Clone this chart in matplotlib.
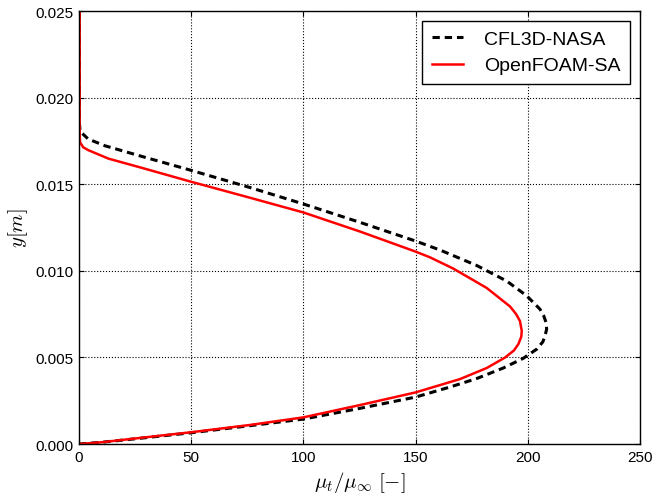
import matplotlib
matplotlib.use("Agg")
import matplotlib.pyplot as plt
import numpy as np

plt.rcParams['font.family'] = ['Liberation Sans', 'DejaVu Sans']
plt.rcParams['mathtext.fontset'] = 'cm'

# CFL3D-NASA (x = mu_t/mu_inf, y = y[m])
cfl_x = [0.0, 10, 25, 50, 76.2, 100, 125.2, 150, 165.3, 177.2, 189.1, 198.0, 204.0,
         206.7, 207.7, 208.4, 208.1, 207.1, 205.4, 199.5, 190.6, 177.2, 160.9, 150,
         125.2, 100.0, 76.2, 49.5, 27.9, 11.6, 4.1, 0.5, 0.2, 0.2]
cfl_y = [0.0, 0.0001, 0.0003, 0.00065, 0.00106, 0.00144, 0.00206, 0.00271, 0.00329,
         0.00378, 0.00439, 0.00495, 0.00548, 0.0059, 0.00625, 0.00664, 0.00703,
         0.0074, 0.00779, 0.00856, 0.00941, 0.01031, 0.0112, 0.01172, 0.0128,
         0.01386, 0.01481, 0.01582, 0.01661, 0.01722, 0.01761, 0.01805, 0.0185, 0.025]

# OpenFOAM-SA
of_x = [0.0, 10, 25, 50, 76.2, 100, 125.2, 150, 156.4, 169.8, 181.7, 189.8, 193.8,
        195.8, 197.1, 197.3, 196.5, 194.8, 192.1, 181.7, 166.8, 156.4, 150, 125.2,
        100, 76.2, 49.5, 27.9, 13.1, 4.1, 1.9, 0.45, 0.3, 0.3]
of_y = [0.0, 0.0001, 0.00032, 0.00068, 0.0011, 0.00154, 0.00225, 0.00298, 0.00323,
        0.00375, 0.00439, 0.00499, 0.0054, 0.00577, 0.0062, 0.00654, 0.0071, 0.0075,
        0.00794, 0.00901, 0.01013, 0.01078, 0.01111, 0.01227, 0.01337, 0.01422,
        0.01516, 0.01595, 0.01648, 0.01697, 0.01713, 0.01742, 0.0180, 0.025]

xticks = [0, 50, 100, 150, 200, 250]
yticks = [0.000, 0.005, 0.010, 0.015, 0.020, 0.025]

fig = plt.figure(figsize=(6.54, 5.02), dpi=100)
ax = fig.add_axes([0.1208, 0.1135, 0.8578, 0.8625])

ax.plot(cfl_x, cfl_y, color='black', linestyle='--', dashes=(2.4, 1.6), linewidth=2.2,
        label='CFL3D-NASA')
ax.plot(of_x, of_y, color='red', linestyle='-', linewidth=1.8, label='OpenFOAM-SA')

ax.set_xlim(0, 250)
ax.set_ylim(0, 0.025)
ax.set_xticks(xticks)
ax.set_yticks(yticks)
ax.set_xticklabels([str(v) for v in xticks])
ax.set_yticklabels(['%.3f' % v for v in yticks])
ax.tick_params(direction='in', top=True, right=True, labelsize=11, length=3.5,
               width=0.8, pad=4)
ax.grid(True, which='major', color='black', linestyle=':', linewidth=0.8)
for s in ax.spines.values():
    s.set_linewidth(1.0)

ax.set_xlabel(r'$\mu_t/\mu_\infty\ [-]$', fontsize=15, labelpad=4)
ax.set_ylabel(r'$y[m]$', fontsize=15, labelpad=4)

leg = ax.legend(loc='upper right', fontsize=14, fancybox=False, framealpha=1,
                edgecolor='black', handlelength=1.6, handletextpad=1.1,
                borderpad=0.5, labelspacing=0.45, borderaxespad=0.5)
leg.get_frame().set_linewidth(1.0)

fig.savefig('out.png', dpi=100)
